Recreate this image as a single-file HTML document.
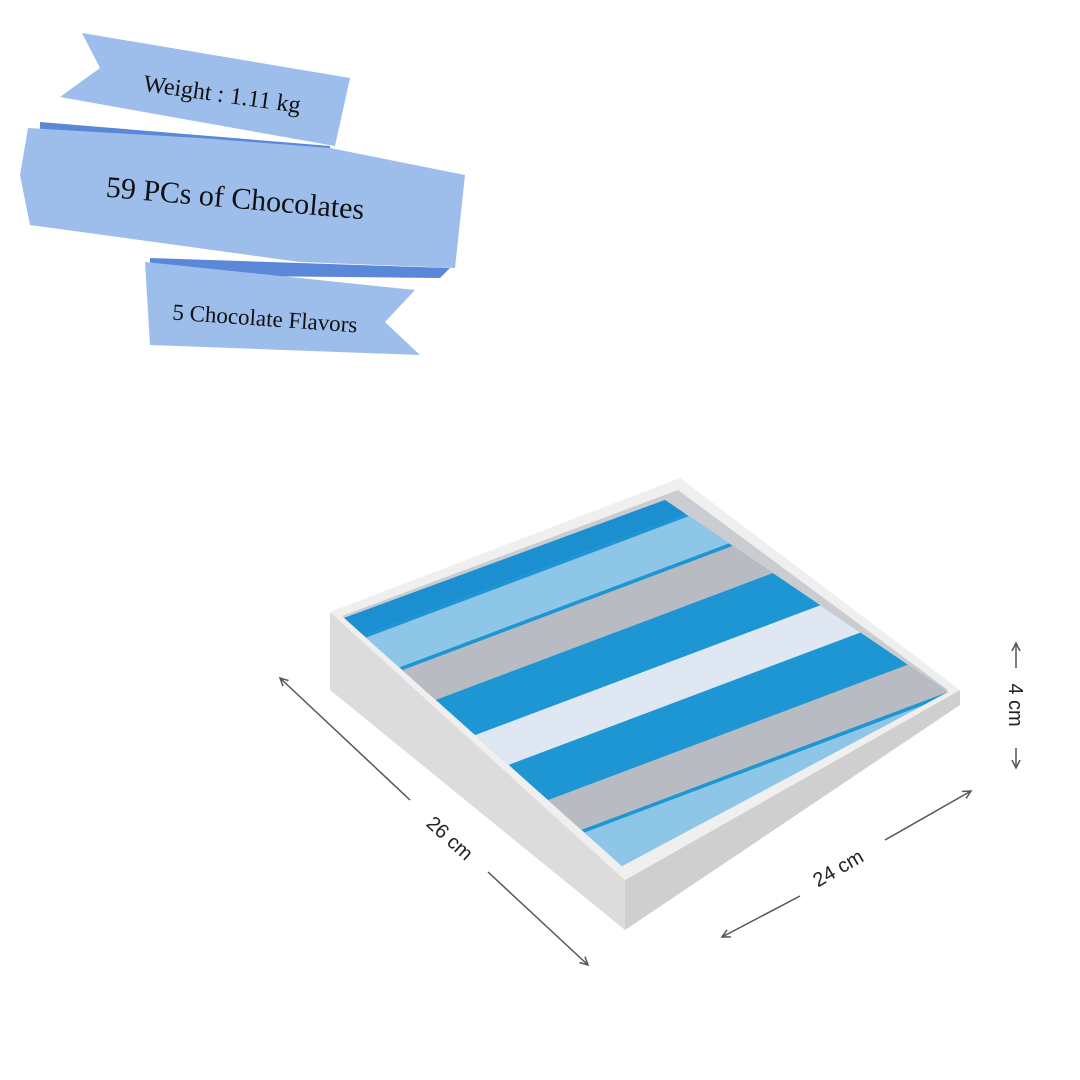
<!DOCTYPE html>
<html><head><style>
html,body{margin:0;padding:0;background:#fff;}
svg{display:block}
</style></head><body>
<svg width="1080" height="1080" viewBox="0 0 1080 1080" xmlns="http://www.w3.org/2000/svg">
<defs>
<marker id="ah" markerWidth="10" markerHeight="10" refX="8" refY="5" orient="auto-start-reverse" markerUnits="userSpaceOnUse">
<path d="M0,1 L8,5 L0,9" fill="none" stroke="#555" stroke-width="1.5"/>
</marker>
<clipPath id="inner"><polygon points="344,618 665,500 948,692 622,866"/></clipPath>
</defs>
<!-- ribbons -->
<polygon points="40,122 330,146 330,160 40,140" fill="#5b87d8"/>
<polygon points="82,33 350,78 335,146 60,97 100,68" fill="#9dbdea"/>
<polygon points="150,258 450,268 440,278 150,275" fill="#5b87d8"/>
<polygon points="28,128 200,138 330,148 465,175 455,268 300,262 30,225 20,175" fill="#9dbdea"/>
<polygon points="145,262 415,290 385,322 420,355 150,345" fill="#9dbdea"/>
<g font-family="'Liberation Serif',serif" fill="#111">
<text x="222" y="102" font-size="24" text-anchor="middle" transform="rotate(8 222 95)">Weight : 1.11 kg</text>
<text x="235" y="208" font-size="30" text-anchor="middle" transform="rotate(5 235 200)">59 PCs of Chocolates</text>
<text x="265" y="326" font-size="23" text-anchor="middle" transform="rotate(4 265 318)">5 Chocolate Flavors</text>
</g>
<!-- box -->
<polygon points="330,612 625,880 625,930 330,690" fill="#dcdcdc"/>
<polygon points="625,880 960,690 960,705 625,930" fill="#cfcfcf"/>
<polygon points="330,612 680,478 960,690 625,880" fill="#efefef"/>
<polygon points="342,616 678,490 948,690 622,866" fill="#c9ccd0"/>
<g clip-path="url(#inner)">
<g transform="matrix(300,272,420,-158,330,605)">
<rect x="0" y="0" width="1" height="1" fill="#1e96d4"/>
<rect x="0.0" y="0" width="0.11" height="1" fill="#1c8fd0"/>
<rect x="0.12" y="0" width="0.11" height="1" fill="#8ec6e8"/>
<rect x="0.24" y="0" width="0.11" height="1" fill="#b8bcc2"/>
<rect x="0.36" y="0" width="0.11" height="1" fill="#1e96d4"/>
<rect x="0.48" y="0" width="0.11" height="1" fill="#dfe8f2"/>
<rect x="0.6" y="0" width="0.11" height="1" fill="#1e96d4"/>
<rect x="0.72" y="0" width="0.11" height="1" fill="#b8bcc2"/>
<rect x="0.84" y="0" width="0.16" height="1" fill="#8ec6e8"/>
</g>
</g>
<!-- dimension lines -->
<g stroke="#555" stroke-width="1.5" fill="none">
<line x1="280" y1="678" x2="410" y2="800" marker-start="url(#ah)"/>
<line x1="488" y1="872" x2="588" y2="965" marker-end="url(#ah)"/>
<line x1="722" y1="937" x2="800" y2="896" marker-start="url(#ah)"/>
<line x1="885" y1="840" x2="971" y2="791" marker-end="url(#ah)"/>
<line x1="1016" y1="643" x2="1016" y2="668" marker-start="url(#ah)"/>
<line x1="1016" y1="748" x2="1016" y2="768" marker-end="url(#ah)"/>
</g>
<g font-family="'Liberation Sans',sans-serif" font-size="20" fill="#222" text-anchor="middle">
<text x="450" y="845" transform="rotate(42 450 838)">26 cm</text>
<text x="838" y="875" transform="rotate(-30 838 868)">24 cm</text>
<text x="1016" y="712" transform="rotate(90 1016 705)">4 cm</text>
</g>
</svg>
</body></html>
